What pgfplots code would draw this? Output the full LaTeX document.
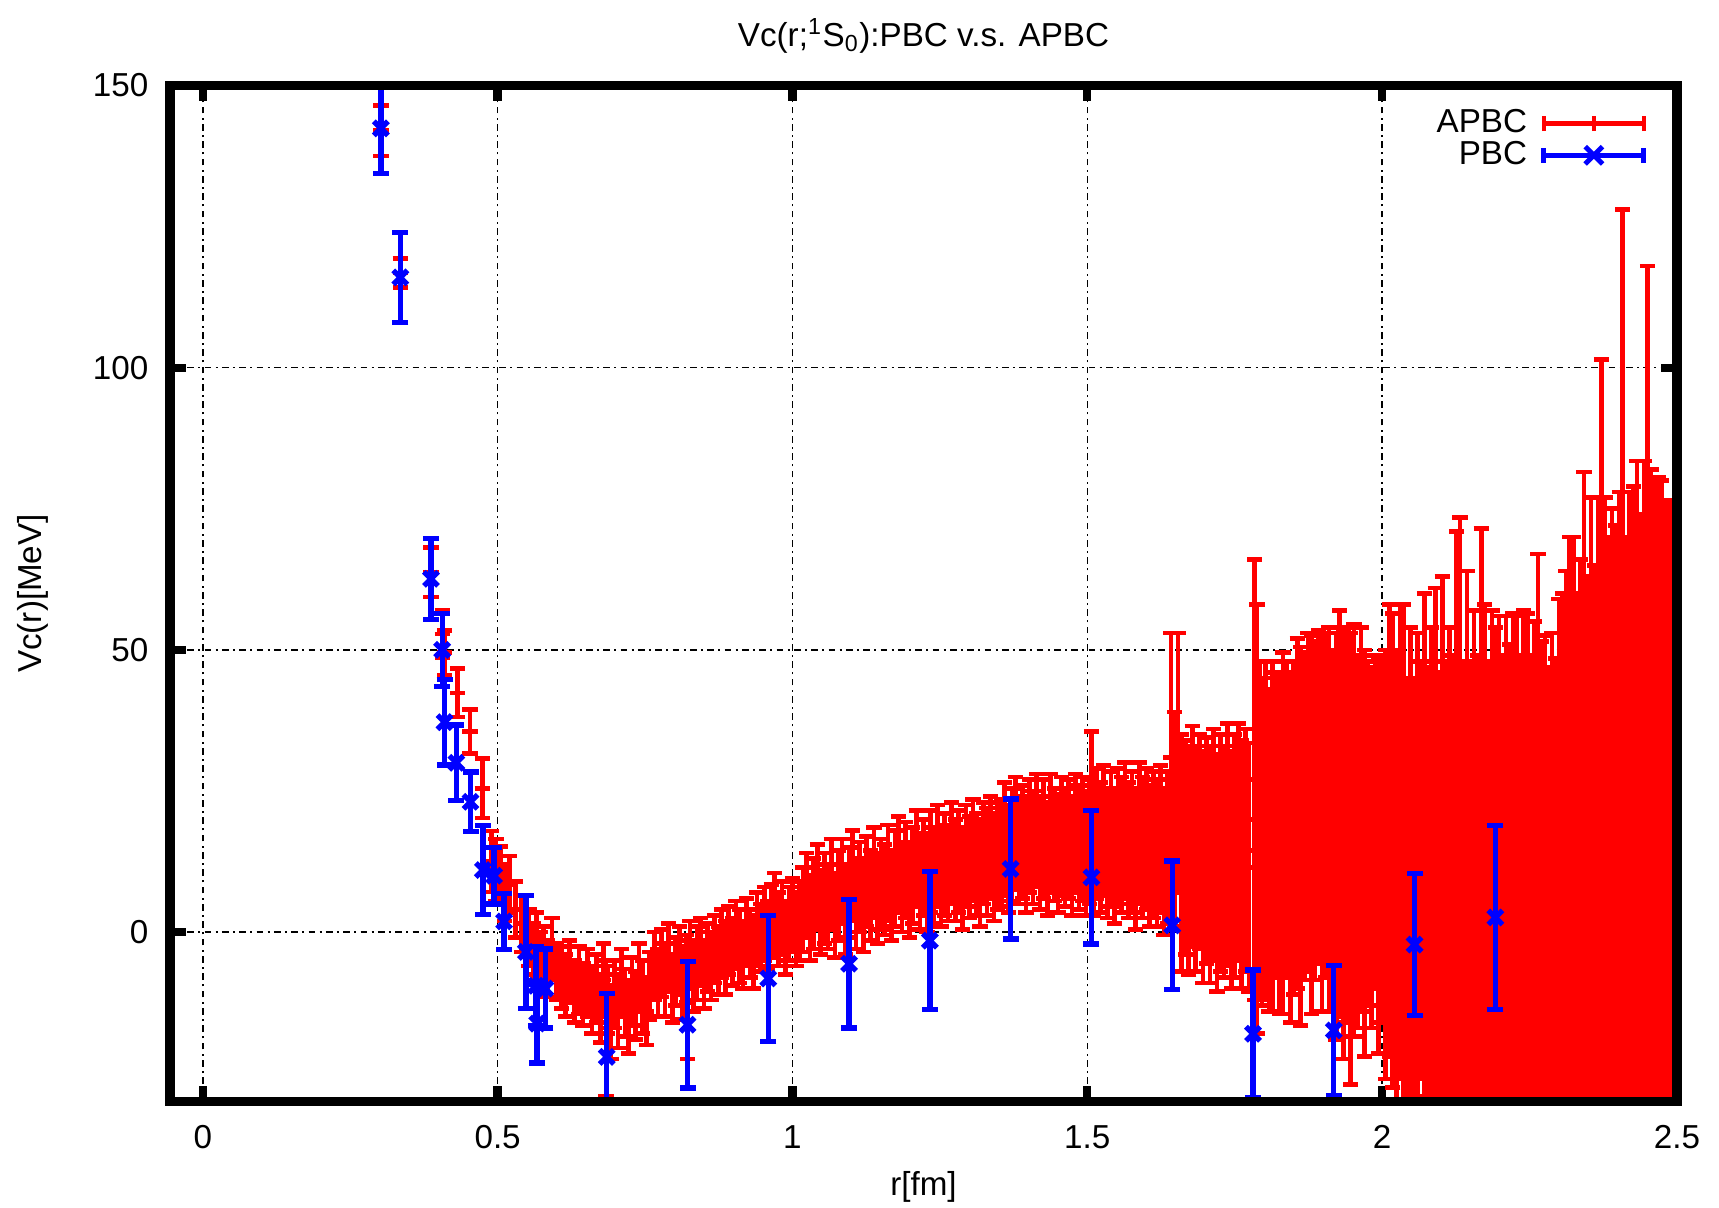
\documentclass[border=0pt]{standalone}
\usepackage{fontspec}
\setmainfont{Liberation Sans}
\usepackage{pgfplots}
\usepackage{pgfplotstable}
\usetikzlibrary{calc}
\pgfplotsset{compat=1.18}

\pgfplotstableread{
r v e
0.302 142.0 4.5
0.335 116.8 2.6
0.387 63.8 4.4
0.406 52.8 4.2
0.410 49.5 4.0
0.432 42.4 4.3
0.453 35.5 3.9
0.474 25.5 5.3
0.490 12.5 5.4
0.497 11.0 5.5
0.505 10.0 5.2
0.512 7.0 5.0
0.520 8.5 5.0
0.530 4.0 5.0
0.540 1.5 5.0
0.553 -1.0 5.0
0.560 -3.5 5.0
0.566 -2.0 5.5
0.572 -5.0 5.0
0.578 -4.0 5.0
0.585 -6.5 5.0
0.592 -3.0 5.5
0.600 -7.0 5.0
0.608 -8.0 5.5
0.615 -9.5 5.5
0.622 -7.0 5.5
0.630 -10.5 5.5
0.638 -8.5 6.0
0.645 -11.0 5.5
0.652 -9.0 6.0
0.660 -12.0 6.0
0.668 -10.0 6.0
0.674 -13.5 6.0
0.680 -8.5 6.5
0.684 -17.0 12.0
0.686 -12.0 6.0
0.692 -16.0 6.5
0.698 -11.0 6.0
0.704 -14.0 6.5
0.710 -9.0 6.0
0.716 -12.5 6.0
0.722 -15.0 6.5
0.728 -10.5 6.0
0.734 -13.0 6.0
0.740 -8.0 6.0
0.746 -11.5 6.5
0.752 -14.0 6.0
0.758 -9.5 6.0
0.766 -6.0 6.0
0.772 -9.0 6.0
0.778 -5.5 6.0
0.784 -8.5 6.5
0.790 -4.5 6.0
0.796 -10.0 6.0
0.802 -7.0 6.0
0.808 -5.0 6.0
0.814 -9.0 6.5
0.820 -6.5 6.0
0.822 -12.0 10.5
0.826 -4.0 6.0
0.832 -8.0 6.0
0.838 -5.5 6.5
0.844 -3.5 6.0
0.850 -7.5 6.0
0.856 -4.5 6.0
0.862 -6.0 6.0
0.868 -3.0 6.0
0.874 -5.0 6.0
0.880 -2.0 6.0
0.886 -4.5 6.5
0.892 -1.5 6.0
0.898 -3.5 6.0
0.904 -0.5 6.0
0.910 -2.5 6.5
0.916 -4.0 6.0
0.922 0.0 6.0
0.928 -2.0 6.0
0.934 -3.5 6.5
0.940 0.5 6.5
0.946 -1.0 6.0
0.952 1.5 6.5
0.958 -0.5 6.0
0.964 2.0 6.5
0.970 3.5 7.0
0.976 0.5 6.5
0.982 2.5 6.5
0.988 -1.0 6.5
0.994 1.5 6.5
1.000 3.0 6.5
1.006 0.5 6.5
1.012 2.0 7.0
1.018 4.0 7.5
1.024 6.5 7.5
1.030 2.5 7.5
1.036 5.0 8.0
1.042 8.0 7.5
1.048 3.5 7.5
1.054 6.0 8.0
1.060 4.5 7.5
1.066 8.5 8.0
1.072 3.0 7.5
1.078 6.5 8.0
1.084 9.0 7.5
1.090 4.0 8.0
1.096 7.0 8.0
1.102 10.0 8.0
1.108 5.0 8.0
1.114 8.0 8.0
1.120 4.5 8.0
1.126 9.0 8.0
1.132 6.5 8.0
1.138 10.5 8.0
1.144 6.0 8.0
1.150 8.5 8.0
1.156 7.5 8.0
1.162 10.5 8.5
1.168 6.5 8.0
1.174 9.5 8.5
1.180 12.0 8.5
1.186 8.0 8.0
1.192 11.0 8.5
1.198 7.5 8.5
1.204 10.0 8.5
1.210 13.0 8.5
1.216 9.0 8.5
1.222 11.5 8.5
1.228 8.5 8.5
1.234 12.5 9.0
1.240 10.0 8.5
1.246 13.5 9.0
1.252 9.5 8.5
1.258 12.0 9.0
1.264 10.5 8.5
1.270 14.0 9.0
1.276 11.0 9.0
1.282 12.5 9.0
1.288 9.5 9.0
1.294 13.5 9.0
1.300 11.5 9.0
1.306 14.5 9.0
1.312 12.0 9.0
1.318 10.5 9.5
1.324 14.0 9.0
1.330 12.5 9.5
1.336 15.0 9.0
1.342 11.5 9.5
1.348 13.5 9.5
1.354 14.0 9.5
1.360 16.5 10.0
1.366 13.0 9.5
1.372 15.5 10.0
1.378 17.5 10.0
1.384 14.5 9.5
1.390 16.0 10.0
1.396 13.5 10.0
1.402 17.0 10.0
1.408 15.0 10.0
1.414 18.0 10.0
1.420 14.0 10.0
1.426 16.5 10.5
1.432 13.0 10.0
1.438 17.5 10.5
1.444 15.5 10.0
1.450 14.0 10.5
1.456 17.0 10.5
1.462 15.0 10.5
1.468 16.5 10.5
1.474 13.5 10.5
1.480 17.5 10.5
1.486 15.0 11.0
1.492 16.5 11.0
1.498 14.0 11.0
1.504 16.0 11.0
1.507 22.0 13.5
1.510 14.5 11.5
1.516 17.5 11.5
1.522 15.0 11.5
1.528 18.0 11.5
1.534 14.0 11.5
1.540 16.5 12.0
1.546 13.5 12.0
1.552 17.0 12.0
1.558 15.5 12.0
1.564 18.0 12.0
1.570 14.5 12.0
1.576 16.0 12.5
1.582 13.0 12.5
1.588 17.5 12.5
1.594 15.0 12.5
1.600 16.5 12.5
1.606 13.5 12.5
1.612 15.5 13.0
1.618 14.0 13.0
1.624 16.5 13.0
1.630 12.5 13.0
1.636 15.0 13.5
1.642 31.0 22.0
1.648 20.0 19.0
1.654 30.0 23.0
1.660 14.0 21.0
1.666 15.0 19.0
1.672 12.5 20.0
1.678 17.0 19.5
1.684 13.0 20.0
1.690 16.0 19.0
1.696 11.5 20.5
1.702 14.5 20.0
1.708 12.0 21.0
1.714 15.5 20.5
1.720 10.5 21.0
1.726 14.0 21.0
1.732 12.5 20.5
1.738 15.5 21.5
1.744 11.0 21.0
1.750 13.5 21.5
1.756 16.0 21.0
1.762 12.0 22.0
1.768 14.5 21.5
1.774 11.5 22.0
1.784 27.0 39.0
1.788 20.0 38.0
1.792 18.0 30.0
1.796 16.0 29.0
1.802 18.0 30.0
1.808 14.5 28.5
1.814 17.0 31.0
1.820 19.0 27.0
1.826 15.5 30.0
1.832 17.5 32.0
1.838 20.0 28.0
1.844 15.0 31.0
1.850 18.5 29.5
1.856 21.0 31.0
1.862 17.0 33.5
1.868 20.5 29.0
1.874 23.0 30.0
1.880 19.0 33.5
1.886 21.5 30.0
1.892 24.0 29.5
1.898 19.5 33.5
1.904 22.5 30.5
1.910 20.0 34.0
1.916 18.0 32.0
1.922 17.0 36.0
1.928 21.0 36.0
1.934 15.5 38.0
1.940 19.0 35.0
1.946 13.0 40.0
1.952 18.0 36.5
1.958 16.0 33.0
1.964 20.0 34.0
1.970 14.0 36.0
1.976 17.5 30.5
1.982 15.0 32.0
1.988 19.5 29.5
1.994 13.5 35.0
2.000 16.5 32.5
2.006 12.0 38.0
2.012 18.0 40.0
2.018 14.5 42.0
2.024 10.0 40.0
2.030 16.0 42.0
2.036 8.0 50.0
2.042 5.0 40.0
2.048 10.0 44.0
2.054 3.0 42.0
2.060 7.5 45.5
2.066 11.0 37.0
2.072 4.0 56.0
2.078 9.0 38.0
2.084 6.0 48.0
2.090 12.0 49.0
2.096 2.0 44.0
2.102 8.5 54.5
2.108 5.5 42.5
2.114 10.5 43.5
2.120 3.5 45.5
2.126 14.0 57.0
2.132 16.0 57.5
2.138 7.0 41.0
2.144 11.5 52.5
2.150 4.5 43.5
2.156 9.5 47.5
2.162 6.5 42.5
2.168 15.0 56.5
2.174 10.0 48.0
2.180 3.0 45.0
2.186 8.0 49.0
2.192 12.0 42.0
2.198 5.0 51.0
2.204 9.5 39.5
2.210 2.5 53.5
2.216 7.0 44.0
2.222 11.0 45.5
2.228 4.0 52.0
2.234 8.5 40.5
2.240 13.0 44.0
2.246 6.0 50.5
2.252 10.0 39.0
2.258 3.5 51.5
2.264 12.0 55.0
2.270 7.5 44.0
2.276 5.0 47.5
2.282 9.0 38.0
2.288 2.0 51.0
2.294 6.5 42.0
2.300 11.0 48.0
2.306 8.0 52.0
2.312 4.0 60.0
2.318 12.0 58.0
2.324 16.0 54.0
2.330 6.0 54.0
2.336 10.0 56.0
2.342 18.0 63.5
2.348 7.0 56.0
2.354 14.0 63.0
2.360 3.0 62.0
2.366 20.0 57.0
2.372 22.0 79.5
2.378 9.0 68.0
2.384 15.0 55.0
2.390 5.0 70.0
2.396 12.0 60.0
2.402 17.0 61.0
2.408 28.0 100.0
2.414 8.0 62.0
2.420 13.0 65.0
2.426 4.0 75.0
2.432 19.0 64.5
2.438 10.0 64.0
2.444 25.0 58.5
2.450 30.0 88.0
2.456 14.0 68.0
2.462 6.0 74.0
2.468 18.0 62.5
2.474 11.0 69.0
2.480 7.0 69.5
2.486 15.0 61.5
2.492 3.0 73.0
2.498 9.0 67.0
}\apbc

\pgfplotstableread{
r v e
0.302 142.4 8.0
0.335 116.0 8.0
0.387 62.6 7.2
0.406 50.0 6.5
0.410 37.2 7.6
0.430 30.0 6.7
0.454 23.1 5.3
0.475 11.0 7.9
0.494 10.0 5.0
0.511 1.9 5.0
0.548 -3.5 10.0
0.565 -9.5 7.0
0.567 -16.2 7.0
0.581 -10.0 7.0
0.685 -22.1 11.2
0.822 -16.4 11.2
0.959 -8.2 11.2
1.096 -5.6 11.4
1.233 -1.5 12.2
1.370 11.2 12.4
1.507 9.7 11.8
1.644 1.2 11.4
1.781 -18.0 11.3
1.918 -17.4 11.5
2.055 -2.2 12.6
2.192 2.6 16.3
}\pbc

\begin{document}
\begin{tikzpicture}
\begin{axis}[
  scale only axis, width=452.1bp, height=304.8bp,
  xmin=-0.0556, xmax=2.5, ymin=-30, ymax=150,
  enlargelimits=false,
  clip marker paths=true,
  font=\fontsize{10}{12}\selectfont,
  /pgf/number format/assume math mode=true,
  xtick={0,0.5,1,1.5,2,2.5},
  xticklabels={0,0.5,1,1.5,2,2.5},
  ytick={0,50,100,150},
  yticklabels={0,50,100,150},
  tick label style={font=\fontsize{10}{12}\selectfont},
  xticklabel style={yshift=-3.6bp},
  yticklabel style={xshift=-3bp},
  tick align=inside,
  major tick length=4.7bp,
  tick style={line width=2.5bp, black},
  axis line style={line width=2.8bp},
  grid=major,
  major grid style={black, line width=0.45bp, dash pattern=on 2bp off 1.3bp on 0.6bp off 1.3bp},
  title={Vc(r;\textsuperscript{1}S\textsubscript{0}):PBC v.s. APBC},
  title style={at={(axis description cs:0.5,1.0288)}, anchor=center, font=\fontsize{10}{12}\selectfont},
  xlabel={r[fm]},
  xlabel style={at={(axis description cs:0.5,-0.0837)}, anchor=center},
  ylabel={Vc(r)[MeV]},
  ylabel style={at={(axis description cs:-0.0907,0.5)}, anchor=center},
  legend plot pos=right,
  legend cell align=right,
  legend style={at={(axis description cs:1,1)}, anchor=north east, xshift=-6bp, yshift=-3bp,
    draw=none, fill=none, row sep=-2.9bp, column sep=2.3bp, font=\fontsize{10}{12}\selectfont},
]
\addplot[red, only marks, mark=+, mark size=2.3bp, mark options={line width=1.4bp},
  legend image code/.code={
    \draw[red, line width=1.4bp] (0bp,0bp) -- (30bp,0bp);
    \draw[red, line width=1.4bp] (0bp,-2.3bp) -- (0bp,2.3bp) (15bp,-2.3bp) -- (15bp,2.3bp) (30bp,-2.3bp) -- (30bp,2.3bp);
  },
  error bars/.cd, y dir=both, y explicit,
  error bar style={line width=1.4bp, red},
  error mark options={rotate=90, mark size=2.3bp, line width=1.4bp, red}]
  table[x=r, y=v, y error=e]{\apbc};
\addlegendentry{APBC}
\addplot[blue, only marks, mark=x, mark size=3bp, mark options={line width=1.6bp},
  legend image code/.code={
    \draw[blue, line width=1.5bp] (0bp,0bp) -- (30bp,0bp);
    \draw[blue, line width=1.5bp] (0bp,-2.3bp) -- (0bp,2.3bp) (30bp,-2.3bp) -- (30bp,2.3bp);
    \draw[blue, line width=1.5bp] (15bp,0bp) +(-2.6bp,-2.6bp) -- +(2.6bp,2.6bp) (15bp,0bp) +(-2.6bp,2.6bp) -- +(2.6bp,-2.6bp);
  },
  error bars/.cd, y dir=both, y explicit,
  error bar style={line width=1.6bp, blue},
  error mark options={rotate=90, mark size=2.4bp, line width=1.6bp, blue}]
  table[x=r, y=v, y error=e]{\pbc};
\addlegendentry{PBC}
\end{axis}
\draw[line width=2.8bp] (current axis.south west) rectangle (current axis.north east);
\pgfresetboundingbox
\path[use as bounding box] ($(current axis.south west)+(-51bp,-31.8bp)$) rectangle ($(current axis.north east)+(12.6bp,25.65bp)$);
\end{tikzpicture}
\end{document}
